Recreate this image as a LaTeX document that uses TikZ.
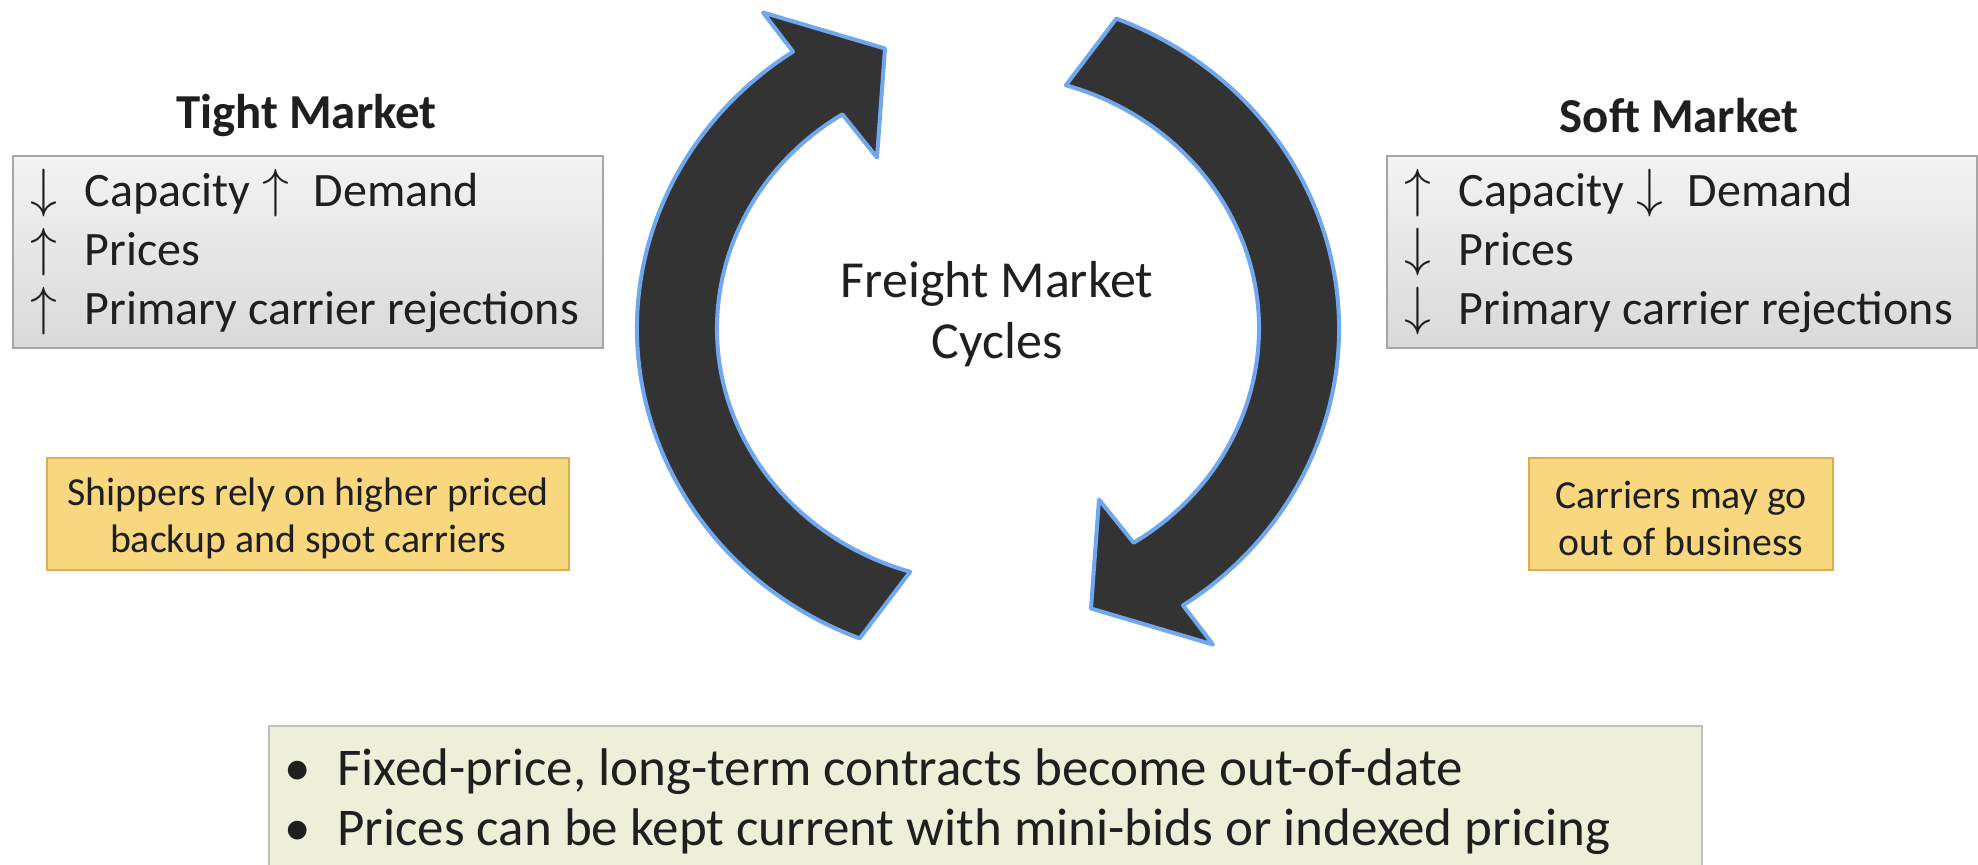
\documentclass[tikz,border=0pt]{standalone}
\usepackage{fontspec}
\setmainfont{Carlito}
\usetikzlibrary{calc}
\definecolor{arrowfill}{HTML}{333333}
\definecolor{arrowline}{HTML}{6FA8EF}
\definecolor{greytop}{HTML}{F3F3F3}
\definecolor{greybot}{HTML}{D9D9D9}
\definecolor{greyedge}{HTML}{A6A6A6}
\definecolor{goldfill}{HTML}{F9D77E}
\definecolor{goldedge}{HTML}{DCAE52}
\definecolor{olivefill}{HTML}{EEEFD8}
\definecolor{oliveedge}{HTML}{BFBFBF}
\definecolor{ink}{HTML}{1F1F1F}
% trend arrows at the start of a line and between two words
\newcommand{\leadarr}[1]{\makebox[27pt][l]{\scalebox{1.08}{$#1$}}}
\newcommand{\midarr}[1]{\hspace{6pt}\makebox[25.5pt][l]{\scalebox{1.08}{$#1$}}}
\newcommand{\bulletmark}{\makebox[26.5pt][l]{•}}
\begin{document}
\begin{tikzpicture}[x=0.5pt,y=0.5pt,
  cyclearrow/.style={fill=arrowfill, draw=arrowline, line width=2pt, line join=round},
  heading/.style={font=\bfseries\fontsize{24.4}{29}\selectfont, text=ink, inner sep=0pt},
  greybox/.style={draw=greyedge, line width=0.8pt, top color=greytop, bottom color=greybot,
    align=flush left, inner xsep=9pt, inner ysep=0pt, text width=277pt, minimum height=96pt,
    font=\fontsize{24}{29.3}\selectfont, text=ink},
  goldbox/.style={draw=goldedge, line width=1.2pt, fill=goldfill, minimum height=56pt},
  goldtext/.style={align=center, inner sep=0pt, font=\fontsize{19.9}{23.3}\selectfont, text=ink},
  olivebox/.style={draw=oliveedge, line width=0.8pt, fill=olivefill, inner sep=0pt},
  centretext/.style={font=\fontsize{26}{30.5}\selectfont, text=ink, align=center, inner sep=0pt},
  bullettext/.style={font=\fontsize{26.5}{30}\selectfont, text=ink, align=left, inner sep=0pt}
]
\clip (0,0) rectangle (1978,-864);
\fill[white] (0,0) rectangle (1978,-864);

% cycle of two curved arrows
\coordinate (C) at (988,-328.5);
\draw[cyclearrow]
  ($(C)+(248.55:351 and 333)$) arc[start angle=248.55, end angle=123.75, x radius=351, y radius=333]
  -- ($(C)+(-225,316)$) -- ($(C)+(-103,280)$) -- ($(C)+(-111,171)$)
  -- ($(C)+(122.5:271 and 254)$) arc[start angle=122.5, end angle=253.3, x radius=271, y radius=254]
  -- cycle;
\draw[cyclearrow]
  ($(C)+(68.55:351 and 333)$) arc[start angle=68.55, end angle=-56.25, x radius=351, y radius=333]
  -- ($(C)+(225,-316)$) -- ($(C)+(103,-280)$) -- ($(C)+(111,-171)$)
  -- ($(C)+(-57.5:271 and 254)$) arc[start angle=-57.5, end angle=73.3, x radius=271, y radius=254]
  -- cycle;
\node[centretext] (centre) at (997,-314) {Freight Market\\Cycles};

% tight market side
\node[heading] (tighthead) at (306.5,-116) {Tight Market};
\node[greybox] (tightbox) at (307.8,-252)
  {\leadarr{\downarrow}Capacity\midarr{\uparrow}Demand\\\leadarr{\uparrow}Prices\\\leadarr{\uparrow}Primary carrier rejections};
\node[goldbox, minimum width=261pt] (tightnote) at (308,-514) {};
\node[goldtext] (tightnotetext) at (308,-518.5) {Shippers rely on higher priced\\backup and spot carriers};

% soft market side
\node[heading] (softhead) at (1679,-116) {Soft Market};
\node[greybox] (softbox) at (1681.7,-252)
  {\leadarr{\uparrow}Capacity\midarr{\downarrow}Demand\\\leadarr{\downarrow}Prices\\\leadarr{\downarrow}Primary carrier rejections};
\node[goldbox, minimum width=152pt] (softnote) at (1681,-514) {};
\node[goldtext] (softnotetext) at (1681,-518.5) {Carriers may go\\out of business};

% pricing consequences
\node[olivebox, minimum width=716.5pt, minimum height=100pt, anchor=north] (pricing) at (985.25,-725.4) {};
\node[bullettext, anchor=west] (pricingtext) at (284,-802)
  {\bulletmark Fixed-price, long-term contracts become out-of-date\\
   \bulletmark Prices can be kept current with mini-bids or indexed pricing};
\end{tikzpicture}
\end{document}
